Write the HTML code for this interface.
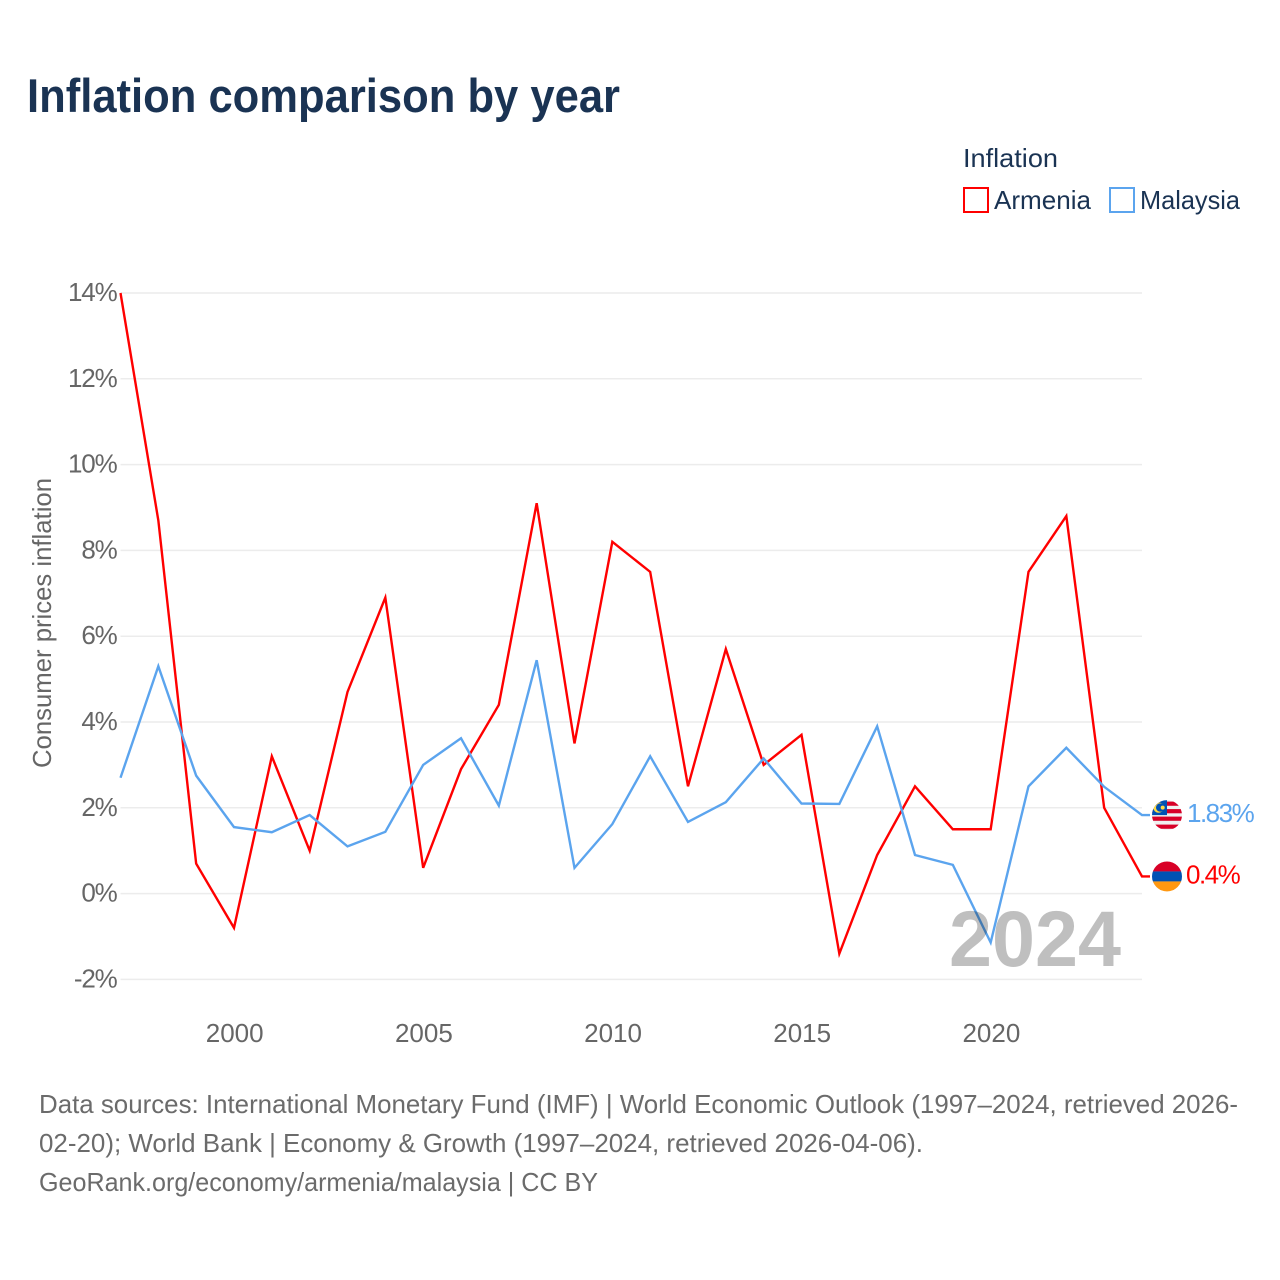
<!DOCTYPE html>
<html lang="en">
<head>
<meta charset="utf-8">
<title>Inflation comparison by year</title>
<style>
html,body{margin:0;padding:0;background:#fff}
svg{display:block;font-family:"Liberation Sans",Arial,sans-serif}
</style>
</head>
<body>
<svg id="chart" xmlns="http://www.w3.org/2000/svg" width="1280" height="1280" viewBox="0 0 1280 1280">
  <defs>
    <clipPath id="flag-clip"><circle cx="0" cy="0" r="15"></circle></clipPath>
  </defs>
  <rect width="1280" height="1280" fill="#fff"></rect>
  <text x="27" y="112" font-size="47" font-weight="700" fill="#1a3353" textLength="593" lengthAdjust="spacingAndGlyphs">Inflation comparison by year</text>

  <g>
    <text x="963" y="167" font-size="26" fill="#1a3353" textLength="95" lengthAdjust="spacingAndGlyphs">Inflation</text>
    <rect x="964" y="188" width="24" height="24" fill="#fff" stroke="#ff0000" stroke-width="2"></rect>
    <text x="994" y="209" font-size="26" fill="#1a3353" textLength="97" lengthAdjust="spacingAndGlyphs">Armenia</text>
    <rect x="1110" y="188" width="24" height="24" fill="#fff" stroke="#5ba4ee" stroke-width="2"></rect>
    <text x="1140" y="209" font-size="26" fill="#1a3353" textLength="100" lengthAdjust="spacingAndGlyphs">Malaysia</text>
  </g>

  <text transform="translate(51 768) rotate(-90)" font-size="26" fill="#666" textLength="290" lengthAdjust="spacingAndGlyphs">Consumer prices inflation</text>

  <g id="grid"></g>
  <g id="y-ticks"></g>
  <g id="x-ticks"></g>

  <g id="series"></g>

  <text x="949" y="966" font-size="79" font-weight="700" fill="#000" fill-opacity="0.25" textLength="172" lengthAdjust="spacingAndGlyphs">2024</text>

  <g id="end-markers"></g>

  <g font-size="26" fill="#6b6b6b">
    <text x="39" y="1113" textLength="1199" lengthAdjust="spacingAndGlyphs">Data sources: International Monetary Fund (IMF) | World Economic Outlook (1997–2024, retrieved 2026-</text>
    <text x="39" y="1152" textLength="884" lengthAdjust="spacingAndGlyphs">02-20); World Bank | Economy &amp; Growth (1997–2024, retrieved 2026-04-06).</text>
    <text x="39" y="1191" textLength="559" lengthAdjust="spacingAndGlyphs">GeoRank.org/economy/armenia/malaysia | CC BY</text>
  </g>
</svg>
<script>
const years = [1997,1998,1999,2000,2001,2002,2003,2004,2005,2006,2007,2008,2009,2010,2011,2012,2013,2014,2015,2016,2017,2018,2019,2020,2021,2022,2023,2024];
const armeniaValues = [14.0,8.7,0.7,-0.8,3.2,1.0,4.7,6.9,0.6,2.9,4.4,9.1,3.5,8.2,7.5,2.5,5.7,3.0,3.7,-1.4,0.9,2.5,1.5,1.5,7.5,8.8,2.0,0.4];
const malaysiaValues = [2.7,5.3,2.75,1.55,1.43,1.83,1.1,1.44,3.0,3.62,2.05,5.44,0.6,1.62,3.2,1.67,2.13,3.15,2.1,2.09,3.9,0.9,0.67,-1.14,2.5,3.4,2.49,1.83];
const yTickValues = [-2,0,2,4,6,8,10,12,14];
const xTickValues = [2000,2005,2010,2015,2020];

const NS = 'http://www.w3.org/2000/svg';
function xScale(year){ return 120.5 + (year - 1997) * (1142 - 120.5) / 27; }
function yScale(v){ return 893.6 - v * 42.9; }
function make(tag, attrs, parent){
  const el = document.createElementNS(NS, tag);
  for (const k in attrs) el.setAttribute(k, attrs[k]);
  parent.appendChild(el);
  return el;
}

const grid = document.getElementById('grid');
const yTicks = document.getElementById('y-ticks');
const xTicks = document.getElementById('x-ticks');
const seriesGroup = document.getElementById('series');
const endMarkers = document.getElementById('end-markers');

yTickValues.forEach(function(v){
  const line = make('line', {x1:120.5, x2:1142, y1:yScale(v), y2:yScale(v), stroke:'#ececec', 'stroke-width':1.5}, grid);
  
  
  const label = make('text', {x:116.5, y:yScale(v)+8, 'text-anchor':'end', 'font-size':26, fill:'#666', 'letter-spacing':-1.2}, yTicks);
  label.textContent = v + '%';
  
  
});

xTickValues.forEach(function(y){
  const label = make('text', {x:xScale(y)+0.7, y:1042, 'text-anchor':'middle', 'font-size':26, fill:'#666'}, xTicks);
  label.textContent = y;
  
  
});

function drawSeries(values, color, name){
  const d = values.map(function(v,i){ return (i ? 'L' : 'M') + xScale(years[i]).toFixed(2) + ' ' + yScale(v).toFixed(2); }).join(' ');
  const last = values[values.length - 1];
  const path = make('path', {d: d + ' h8', fill:'none', stroke:color, 'stroke-width':2.4, 'stroke-linejoin':'miter'}, seriesGroup);
  
  
  return yScale(last);
}

const armeniaEndY = drawSeries(armeniaValues, '#ff0000', 'armenia');
const malaysiaEndY = drawSeries(malaysiaValues, '#5ba4ee', 'malaysia');

function flagGroup(y, name){
  const g = make('g', {transform:'translate(1167 ' + y.toFixed(2) + ')', 'clip-path':'url(#flag-clip)'}, endMarkers);
  
  
  return g;
}

const my = flagGroup(malaysiaEndY, 'malaysia');
make('rect', {x:-15, y:-15, width:30, height:30, fill:'#f0f0f0'}, my);
[-13.5,-6,1.5,9.5].forEach(function(sy){
  make('rect', {x:-15, y:sy, width:30, height:4.2, fill:'#d80027'}, my);
});
make('rect', {x:-15, y:-15, width:15, height:15, fill:'#0052b4'}, my);
make('circle', {cx:-8.5, cy:-7.5, r:5.2, fill:'#ffda44'}, my);
make('circle', {cx:-6.8, cy:-7.5, r:4.2, fill:'#0052b4'}, my);
make('circle', {cx:-4.3, cy:-7.5, r:2, fill:'#ffda44'}, my);

const am = flagGroup(armeniaEndY, 'armenia');
make('rect', {x:-15, y:-15, width:30, height:10, fill:'#d80027'}, am);
make('rect', {x:-15, y:-5, width:30, height:10, fill:'#0052b4'}, am);
make('rect', {x:-15, y:5, width:30, height:10, fill:'#ff9811'}, am);

const malaysiaLabel = make('text', {x:1187, y:malaysiaEndY+7, 'font-size':26, fill:'#5ba4ee', 'letter-spacing':-1.5}, endMarkers);
malaysiaLabel.textContent = malaysiaValues[malaysiaValues.length - 1] + '%';



const armeniaLabel = make('text', {x:1186, y:armeniaEndY+7, 'font-size':26, fill:'#ff0000', 'letter-spacing':-1.5}, endMarkers);
armeniaLabel.textContent = armeniaValues[armeniaValues.length - 1] + '%';


</script>
</body>
</html>
